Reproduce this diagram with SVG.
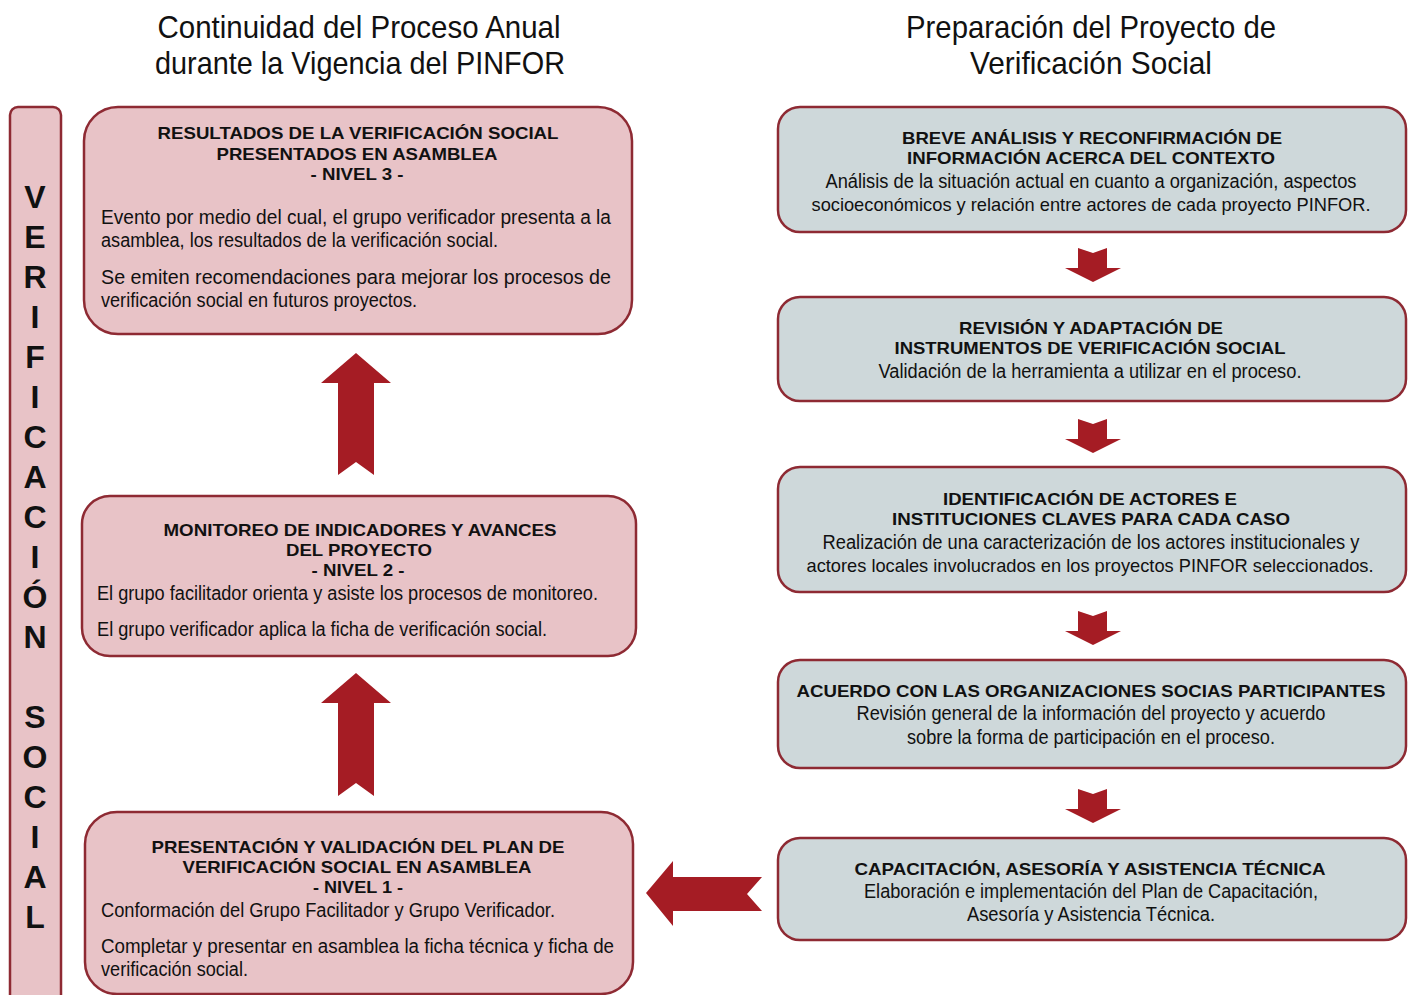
<svg xmlns="http://www.w3.org/2000/svg" width="1413" height="995" viewBox="0 0 1413 995">
<style>
.pink{fill:#e8c3c7;stroke:#8e2a33;stroke-width:2.5}
.gray{fill:#ced8da;stroke:#8e2a33;stroke-width:2.5}
.arr{fill:#a51c24}
.title{font-family:"Liberation Sans",Arial,sans-serif;font-size:32px;fill:#111;text-anchor:middle}
.h{font-family:"Liberation Sans",Arial,sans-serif;font-size:16.5px;font-weight:bold;fill:#111;text-anchor:middle}
.b{font-family:"Liberation Sans Narrow","Liberation Sans",Arial,sans-serif;font-size:19.5px;fill:#111}
.bc{font-family:"Liberation Sans Narrow","Liberation Sans",Arial,sans-serif;font-size:19.5px;fill:#111;text-anchor:middle}
.bs{font-size:19px}
.v{font-family:"Liberation Sans",Arial,sans-serif;font-size:32px;font-weight:bold;fill:#111;text-anchor:middle}
</style>
<rect width="1413" height="995" fill="#ffffff"/>
<g id="titles">
<text class="title" x="359" y="38" textLength="403" lengthAdjust="spacingAndGlyphs">Continuidad del Proceso Anual</text>
<text class="title" x="360" y="74" textLength="410" lengthAdjust="spacingAndGlyphs">durante la Vigencia del PINFOR</text>
<text class="title" x="1091" y="38" textLength="370" lengthAdjust="spacingAndGlyphs">Preparación del Proyecto de</text>
<text class="title" x="1091" y="74" textLength="242" lengthAdjust="spacingAndGlyphs">Verificación Social</text>
</g>
<g id="sidebar">
<rect class="pink" x="10" y="107" width="51" height="900" rx="8"/>
<text class="v" x="35" y="208">V</text>
<text class="v" x="35" y="248">E</text>
<text class="v" x="35" y="288">R</text>
<text class="v" x="35" y="328">I</text>
<text class="v" x="35" y="368">F</text>
<text class="v" x="35" y="408">I</text>
<text class="v" x="35" y="448">C</text>
<text class="v" x="35" y="488">A</text>
<text class="v" x="35" y="528">C</text>
<text class="v" x="35" y="568">I</text>
<text class="v" x="35" y="608">Ó</text>
<text class="v" x="35" y="648">N</text>
<text class="v" x="35" y="728">S</text>
<text class="v" x="35" y="768">O</text>
<text class="v" x="35" y="808">C</text>
<text class="v" x="35" y="848">I</text>
<text class="v" x="35" y="888">A</text>
<text class="v" x="35" y="928">L</text>
</g>
<g id="nivel3">
<rect class="pink" x="84" y="107" width="548" height="227" rx="34"/>
<text class="h" x="358" y="139" textLength="401" lengthAdjust="spacingAndGlyphs">RESULTADOS DE LA VERIFICACIÓN SOCIAL</text>
<text class="h" x="357" y="160" textLength="281" lengthAdjust="spacingAndGlyphs">PRESENTADOS EN ASAMBLEA</text>
<text class="h" x="357" y="180" textLength="93" lengthAdjust="spacingAndGlyphs">- NIVEL 3 -</text>
<text class="b" x="101" y="224" textLength="510" lengthAdjust="spacingAndGlyphs">Evento por medio del cual, el grupo verificador presenta a la</text>
<text class="b" x="101" y="247" textLength="397" lengthAdjust="spacingAndGlyphs">asamblea, los resultados de la verificación social.</text>
<text class="b" x="101" y="284" textLength="510" lengthAdjust="spacingAndGlyphs">Se emiten recomendaciones para mejorar los procesos de</text>
<text class="b" x="101" y="307" textLength="316" lengthAdjust="spacingAndGlyphs">verificación social en futuros proyectos.</text>
</g>
<g id="nivel2">
<rect class="pink" x="82" y="496" width="554" height="160" rx="28"/>
<text class="h" x="360" y="536" textLength="393" lengthAdjust="spacingAndGlyphs">MONITOREO DE INDICADORES Y AVANCES</text>
<text class="h" x="359" y="556" textLength="146" lengthAdjust="spacingAndGlyphs">DEL PROYECTO</text>
<text class="h" x="358" y="576" textLength="93" lengthAdjust="spacingAndGlyphs">- NIVEL 2 -</text>
<text class="b" x="97" y="600" textLength="501" lengthAdjust="spacingAndGlyphs">El grupo facilitador orienta y asiste los procesos de monitoreo.</text>
<text class="b" x="97" y="636" textLength="450" lengthAdjust="spacingAndGlyphs">El grupo verificador aplica la ficha de verificación social.</text>
</g>
<g id="nivel1">
<rect class="pink" x="85" y="812" width="548" height="182" rx="32"/>
<text class="h" x="358" y="853" textLength="413" lengthAdjust="spacingAndGlyphs">PRESENTACIÓN Y VALIDACIÓN DEL PLAN DE</text>
<text class="h" x="357" y="873" textLength="349" lengthAdjust="spacingAndGlyphs">VERIFICACIÓN SOCIAL EN ASAMBLEA</text>
<text class="h" x="358" y="893" textLength="90" lengthAdjust="spacingAndGlyphs">- NIVEL 1 -</text>
<text class="b" x="101" y="917" textLength="454" lengthAdjust="spacingAndGlyphs">Conformación del Grupo Facilitador y Grupo Verificador.</text>
<text class="b" x="101" y="953" textLength="513" lengthAdjust="spacingAndGlyphs">Completar y presentar en asamblea la ficha técnica y ficha de</text>
<text class="b" x="101" y="976" textLength="147" lengthAdjust="spacingAndGlyphs">verificación social.</text>
</g>
<g id="paso1">
<rect class="gray" x="778" y="107" width="628" height="125" rx="22"/>
<text class="h" x="1092" y="144" textLength="380" lengthAdjust="spacingAndGlyphs">BREVE ANÁLISIS Y RECONFIRMACIÓN DE</text>
<text class="h" x="1091" y="164" textLength="368" lengthAdjust="spacingAndGlyphs">INFORMACIÓN ACERCA DEL CONTEXTO</text>
<text class="bc" x="1091" y="188" textLength="531" lengthAdjust="spacingAndGlyphs">Análisis de la situación actual en cuanto a organización, aspectos</text>
<text class="bc bs" x="1091" y="211" textLength="559" lengthAdjust="spacingAndGlyphs">socioeconómicos y relación entre actores de cada proyecto PINFOR.</text>
</g>
<g id="paso2">
<rect class="gray" x="778" y="297" width="628" height="104" rx="22"/>
<text class="h" x="1091" y="334" textLength="264" lengthAdjust="spacingAndGlyphs">REVISIÓN Y ADAPTACIÓN DE</text>
<text class="h" x="1090" y="354" textLength="391" lengthAdjust="spacingAndGlyphs">INSTRUMENTOS DE VERIFICACIÓN SOCIAL</text>
<text class="bc" x="1090" y="378" textLength="423" lengthAdjust="spacingAndGlyphs">Validación de la herramienta a utilizar en el proceso.</text>
</g>
<g id="paso3">
<rect class="gray" x="778" y="467" width="628" height="125" rx="22"/>
<text class="h" x="1090" y="505" textLength="294" lengthAdjust="spacingAndGlyphs">IDENTIFICACIÓN DE ACTORES E</text>
<text class="h" x="1091" y="525" textLength="398" lengthAdjust="spacingAndGlyphs">INSTITUCIONES CLAVES PARA CADA CASO</text>
<text class="bc" x="1091" y="549" textLength="537" lengthAdjust="spacingAndGlyphs">Realización de una caracterización de los actores institucionales y</text>
<text class="bc bs" x="1090" y="572" textLength="567" lengthAdjust="spacingAndGlyphs">actores locales involucrados en los proyectos PINFOR seleccionados.</text>
</g>
<g id="paso4">
<rect class="gray" x="778" y="660" width="628" height="108" rx="22"/>
<text class="h" x="1091" y="697" textLength="589" lengthAdjust="spacingAndGlyphs">ACUERDO CON LAS ORGANIZACIONES SOCIAS PARTICIPANTES</text>
<text class="bc" x="1091" y="720" textLength="469" lengthAdjust="spacingAndGlyphs">Revisión general de la información del proyecto y acuerdo</text>
<text class="bc" x="1091" y="744" textLength="368" lengthAdjust="spacingAndGlyphs">sobre la forma de participación en el proceso.</text>
</g>
<g id="paso5">
<rect class="gray" x="778" y="838" width="628" height="102" rx="22"/>
<text class="h" x="1090" y="875" textLength="471" lengthAdjust="spacingAndGlyphs">CAPACITACIÓN, ASESORÍA Y ASISTENCIA TÉCNICA</text>
<text class="bc" x="1091" y="898" textLength="454" lengthAdjust="spacingAndGlyphs">Elaboración e implementación del Plan de Capacitación,</text>
<text class="bc" x="1091" y="921" textLength="248" lengthAdjust="spacingAndGlyphs">Asesoría y Asistencia Técnica.</text>
</g>
<g id="connectors">
<path class="arr" d="M356,353 L391,383 L374,383 L374,475 L356,462 L338,475 L338,383 L321,383 Z"/>
<path class="arr" d="M356,673 L391,703 L374,703 L374,796 L356,783 L338,796 L338,703 L321,703 Z"/>
<path class="arr" d="M646,893 L673,861 L673,877 L762,877 L747,894 L762,911 L673,911 L673,926 Z"/>
<path class="arr" d="M1078,248 L1093,253 L1107,248 L1107,268 L1121,268 L1093,282 L1065,268 L1078,268 Z"/>
<path class="arr" d="M1078,419 L1093,424 L1107,419 L1107,439 L1121,439 L1093,453 L1065,439 L1078,439 Z"/>
<path class="arr" d="M1078,611 L1093,616 L1107,611 L1107,631 L1121,631 L1093,645 L1065,631 L1078,631 Z"/>
<path class="arr" d="M1078,789 L1093,794 L1107,789 L1107,809 L1121,809 L1093,823 L1065,809 L1078,809 Z"/>
</g>
</svg>
